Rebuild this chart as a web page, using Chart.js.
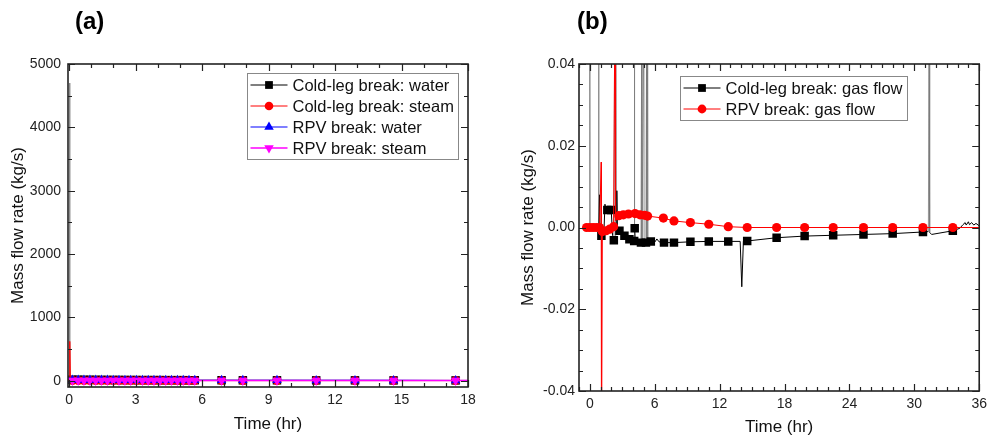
<!DOCTYPE html>
<html>
<head>
<meta charset="utf-8">
<script src="https://cdn.jsdelivr.net/npm/chart.js@4"></script>
<style>
  body { margin: 0; background: #fff; }
  #wrap { position: relative; width: 992px; height: 440px; overflow: hidden; }
  canvas { position: absolute; top: 0; }
  .tag { position: absolute; top: 7px; font: bold 24px "Liberation Sans", Arial, sans-serif; color: #000; }
</style>
</head>
<body>
<div id="wrap">
  <canvas id="chartA" width="496" height="440" style="left:0"></canvas>
  <canvas id="chartB" width="496" height="440" style="left:496px"></canvas>
  <div class="tag" style="left:75px">(a)</div>
  <div class="tag" style="left:577px">(b)</div>
</div>
<script>
// ---- (a) break flow rate, kg/s over time (hr)
const markTimesA = [0.15, 0.41, 0.67, 0.94, 1.2, 1.46, 1.73, 1.99, 2.25, 2.52, 2.78, 3.04, 3.31, 3.57, 3.83,
  4.1, 4.36, 4.62, 4.89, 5.15, 5.41, 5.67, 6.88, 7.84, 9.38, 11.15, 12.9, 14.64, 17.44];
const timeA = [0, 0.02, 0.04, 0.06, ...markTimesA, 18];
const coldWaterA = [0, 4700, 24, 18,
  15, 14, 13, 13, 12, 12, 11, 11, 11, 10, 10, 10, 9, 9, 9, 9, 8, 8, 8, 8, 7, 7, 7, 6, 6, 5, 5, 4, 4, 4];
const coldSteamA = [0, 0, 620, 6,
  3, 3, 3, 2, 2, 2, 2, 2, 2, 2, 2, 2, 2, 2, 2, 2, 1, 1, 1, 1, 1, 1, 1, 1, 1, 1, 1, 1, 1, 1];
const rpvWaterA = [0, 0, 35, 20,
  12, 11, 10, 10, 9, 9, 9, 8, 8, 8, 8, 7, 7, 7, 7, 7, 6, 6, 6, 6, 6, 6, 5, 5, 5, 4, 4, 4, 3, 3];
const rpvSteamA = [0, 0, 14, 6,
  3, 3, 3, 3, 2, 2, 2, 2, 2, 2, 2, 2, 2, 2, 2, 2, 2, 2, 1, 1, 1, 1, 1, 1, 1, 1, 1, 1, 1, 1];
const xTicksA = [0, 3, 6, 9, 12, 15, 18];
const yTicksA = [0, 1000, 2000, 3000, 4000, 5000];

// ---- (b) gas flow rate, kg/s over time (hr)
const timeColdB = [-0.3, -0.02, 0, 0.02, 0.8, 0.82, 0.84, 0.9, 0.95, 1.07, 1.3, 1.4, 1.5, 1.62, 1.98, 2.1, 2.22,
  2.3, 2.35, 2.4, 2.45, 2.5, 2.55, 2.74, 3.2, 3.66, 4.1, 4.12, 4.15, 4.2, 4.73, 4.8, 4.82, 5.0, 5.02, 5.19,
  5.25, 5.28, 5.35, 5.38, 5.64, 6.0, 6.2, 6.4, 6.86, 7.78, 9.3, 11.0, 12.8, 13.9, 14.05, 14.2, 14.55, 17.27,
  19.86, 22.5, 25.3, 28.0, 30.8, 31.3, 31.36, 31.42, 31.6, 33.56, 34.2, 34.5, 34.7, 34.8, 35.0, 35.1, 35.3,
  35.5, 35.7, 36];
const flowColdB = [0, 0, 0.05, 0, 0, 0.05, 0, 0.008, -0.001, -0.002, -0.0015, 0.0057, 0.004, 0.0043, 0.0043, -0.002, -0.0031,
  0.05, -0.002, 0.05, -0.001, 0.009, -0.0002, -0.0008, -0.002, -0.0029, -0.0033, 0.05, -0.0002, -0.0034, -0.0037, 0.05, -0.0037, 0.05, -0.0037, -0.0037,
  0.05, -0.0036, 0.05, -0.0035, -0.0034, -0.0036, -0.0028, -0.0035, -0.0037, -0.0037, -0.0035, -0.0034, -0.0034, -0.0034, -0.0145, -0.0033, -0.0033, -0.0025,
  -0.0021, -0.0019, -0.0017, -0.0015, -0.0011, -0.001, 0.05, -0.0012, -0.0017, -0.0008, -0.0002, 0.0007, 0.0012, 0.0006, 0.0014, 0.0007, 0.0012,
  0.0006, 0.001, 0.0004];
const markColdB = [1.07, 1.62, 1.98, 2.22, 2.74, 3.2, 3.66, 4.1, 4.15, 4.73, 5.19, 5.64, 6.86, 7.78, 9.3, 11.0,
  12.8, 14.55, 17.27, 19.86, 22.5, 25.3, 28.0, 30.8, 33.56];
const timeRpvB = [-0.3, 0, 0.3, 0.6, 0.9, 1.05, 1.08, 1.16, 1.5, 1.83, 2.2, 2.33, 2.38, 2.68, 3.1, 3.57, 4.18, 4.64,
  5.06, 5.34, 6.8, 7.78, 9.3, 11.0, 12.8, 14.55, 17.27, 19.86, 22.5, 25.3, 28.0, 30.8, 33.56, 36];
const flowRpvB = [0, 0, 0, 0, 0, 0.016, -0.06, -0.001, -0.0008, -0.0004, 0.0002, 0.06, 0.0017, 0.0029, 0.0031, 0.0033, 0.0034, 0.0031,
  0.003, 0.0028, 0.0023, 0.0016, 0.0012, 0.0008, 0.0002, 0, 0, 0, 0, 0, 0, 0, 0, 0];
const markRpvB = [-0.3, 0, 0.3, 0.6, 0.9, 1.16, 1.5, 1.83, 2.2, 2.68, 3.1, 3.57, 4.18, 4.64, 5.06, 5.34, 6.8, 7.78,
  9.3, 11.0, 12.8, 14.55, 17.27, 19.86, 22.5, 25.3, 28.0, 30.8, 33.56];
const xTicksB = [0, 6, 12, 18, 24, 30, 36];
const yTicksB = [-0.04, -0.02, 0, 0.02, 0.04];

const FONT = '"Liberation Sans", Arial, sans-serif';
Chart.defaults.font.family = FONT;
Chart.defaults.color = '#222';

const pts = (xs, ys) => xs.map((x, i) => ({x: x, y: ys[i]}));
const markAt = (times, r) => c => (c.raw && times.includes(c.raw.x)) ? r : 0;
// thin grey look for the near-vertical spikes
const spikeGrey = th => ({
  borderColor: c => Math.abs(c.p1.parsed.y - c.p0.parsed.y) > th ? '#777' : undefined,
  borderWidth: c => Math.abs(c.p1.parsed.y - c.p0.parsed.y) > th ? 0.8 : undefined
});

function drawMarker(ctx, style, r, rot, x, y) {
  ctx.beginPath();
  if (style === 'rect') {
    const s = r * Math.SQRT1_2;
    ctx.rect(x - s, y - s, 2 * s, 2 * s);
  } else if (style === 'circle') {
    ctx.arc(x, y, r, 0, Math.PI * 2);
  } else {
    let rad = (rot || 0) * Math.PI / 180;
    for (let k = 0; k < 3; k++) {
      ctx.lineTo(x + Math.sin(rad) * r, y - Math.cos(rad) * r);
      rad += Math.PI * 2 / 3;
    }
    ctx.closePath();
  }
  ctx.fill();
}

// inward major/minor ticks on all four sides + frame
const frameTicks = {
  id: 'frameTicks',
  afterDatasetsDraw(chart, args, opts) {
    const {ctx, chartArea: a, scales: {x, y}} = chart;
    ctx.save();
    ctx.strokeStyle = '#222';
    ctx.lineWidth = 1.2;
    ctx.beginPath();
    const xt = (v, len) => {
      const p = Math.round(x.getPixelForValue(v)) + 0.5;
      ctx.moveTo(p, a.bottom); ctx.lineTo(p, a.bottom - len);
      ctx.moveTo(p, a.top); ctx.lineTo(p, a.top + len);
    };
    const yt = (v, len) => {
      const p = Math.round(y.getPixelForValue(v)) + 0.5;
      ctx.moveTo(a.left, p); ctx.lineTo(a.left + len, p);
      ctx.moveTo(a.right, p); ctx.lineTo(a.right - len, p);
    };
    for (let k = Math.ceil(x.min / opts.xMinor); k * opts.xMinor <= x.max + 1e-9; k++) xt(k * opts.xMinor, 4);
    for (let k = Math.ceil(y.min / opts.yMinor); k * opts.yMinor <= y.max + 1e-9; k++) yt(k * opts.yMinor, 4);
    x.ticks.forEach(t => xt(t.value, 7));
    y.ticks.forEach(t => yt(t.value, 7));
    ctx.stroke();
    ctx.lineWidth = 1.6;
    ctx.strokeRect(a.left, a.top, a.right - a.left, a.bottom - a.top);
    ctx.restore();
  }
};

// Origin-style boxed legend: line with marker, then label
const boxLegend = {
  id: 'boxLegend',
  afterDraw(chart, args, opts) {
    const {ctx, chartArea: a} = chart;
    const sets = chart.data.datasets;
    ctx.save();
    ctx.font = '16.5px ' + FONT;
    const tw = Math.max(...sets.map(d => ctx.measureText(d.label).width));
    const x0 = Math.round(a.left + opts.x) + 0.5, y0 = Math.round(a.top + opts.y) + 0.5;
    const w = Math.round(3 + 37 + 5 + tw + 5), h = sets.length * 21 + 2;
    ctx.fillStyle = '#fff';
    ctx.fillRect(x0, y0, w, h);
    ctx.strokeStyle = '#888';
    ctx.lineWidth = 1;
    ctx.strokeRect(x0, y0, w, h);
    sets.forEach((d, i) => {
      const cy = y0 + 11.5 + i * 21;
      ctx.strokeStyle = d.borderColor;
      ctx.lineWidth = d.borderWidth;
      ctx.beginPath();
      ctx.moveTo(x0 + 3, cy); ctx.lineTo(x0 + 40, cy);
      ctx.stroke();
      ctx.fillStyle = d.backgroundColor;
      drawMarker(ctx, d.pointStyle, d.legendRadius, d.pointRotation, x0 + 21.5, cy);
      ctx.fillStyle = '#111';
      ctx.textBaseline = 'middle';
      ctx.fillText(d.label, x0 + 45, cy + 1);
    });
    ctx.restore();
  }
};

function axisX(min, max, ticks, height, titlePad) {
  return {
    type: 'linear', min: min, max: max,
    afterBuildTicks: s => { s.ticks = ticks.map(v => ({value: v})); },
    afterFit: s => { s.height = height; },
    grid: {display: false, drawTicks: false},
    border: {display: false},
    ticks: {font: {size: 14}, color: '#222', padding: 5, maxRotation: 0, autoSkip: false},
    title: {display: true, text: 'Time (hr)', font: {size: 17}, color: '#111', padding: {top: 0, bottom: titlePad}}
  };
}
function axisY(min, max, ticks, width, labelPad, fmt) {
  return {
    type: 'linear', min: min, max: max,
    afterBuildTicks: s => { s.ticks = ticks.map(v => ({value: v})); },
    afterFit: s => { s.width = width; },
    grid: {display: false, drawTicks: false},
    border: {display: false},
    ticks: {font: {size: 14}, color: '#222', padding: labelPad, autoSkip: false, callback: fmt},
    title: {display: true, text: 'Mass flow rate (kg/s)', font: {size: 17}, color: '#111', padding: {top: 8, bottom: 0}}
  };
}

const baseOpts = {
  responsive: false,
  animation: false,
  events: [],
  plugins: {legend: {display: false}, tooltip: {enabled: false}}
};

new Chart(document.getElementById('chartA'), {
  type: 'scatter',
  data: {
    datasets: [
      {label: 'Cold-leg break: water', data: pts(timeA, coldWaterA), showLine: true, borderColor: '#000', backgroundColor: '#000',
       borderWidth: 1, segment: spikeGrey(1000), pointStyle: 'rect', pointRadius: markAt(markTimesA, 6), legendRadius: 5.5, pointBorderWidth: 0, order: 3},
      {label: 'Cold-leg break: steam', data: pts(timeA, coldSteamA), showLine: true, borderColor: '#ff0000', backgroundColor: '#ff0000',
       borderWidth: 1, pointStyle: 'circle', pointRadius: markAt(markTimesA, 4.5), legendRadius: 4.3, pointBorderWidth: 0, order: 2},
      {label: 'RPV break: water', data: pts(timeA, rpvWaterA), showLine: true, borderColor: '#0000ff', backgroundColor: '#0000ff',
       borderWidth: 1.2, pointStyle: 'triangle', pointRadius: markAt(markTimesA, 5.5), legendRadius: 5.5, pointBorderWidth: 0, order: 1},
      {label: 'RPV break: steam', data: pts(timeA, rpvSteamA), showLine: true, borderColor: '#ff00ff', backgroundColor: '#ff00ff',
       borderWidth: 1.5, pointStyle: 'triangle', pointRotation: 180, pointRadius: markAt(markTimesA, 5.5), legendRadius: 5.5, pointBorderWidth: 0, order: 0}
    ]
  },
  options: Object.assign({}, baseOpts, {
    layout: {padding: {top: 64, right: 28, left: 0, bottom: 0}},
    scales: {
      x: axisX(-0.05, 18, xTicksA, 53, 5),
      y: axisY(-100, 5000, yTicksA, 68, 7, v => String(v))
    },
    plugins: Object.assign({}, baseOpts.plugins, {
      frameTicks: {xMinor: 1, yMinor: 500},
      boxLegend: {x: 179, y: 9}
    })
  }),
  plugins: [frameTicks, boxLegend]
});

new Chart(document.getElementById('chartB'), {
  type: 'scatter',
  data: {
    datasets: [
      {label: 'Cold-leg break: gas flow', data: pts(timeColdB, flowColdB), showLine: true, borderColor: '#000', backgroundColor: '#000',
       borderWidth: 1, segment: spikeGrey(0.02), pointStyle: 'rect', pointRadius: markAt(markColdB, 6), legendRadius: 5.5, pointBorderWidth: 0, order: 1},
      {label: 'RPV break: gas flow', data: pts(timeRpvB, flowRpvB), showLine: true, borderColor: '#ff0000', backgroundColor: '#ff0000',
       borderWidth: 1, pointStyle: 'circle', pointRadius: markAt(markRpvB, 4.6), legendRadius: 4.4, pointBorderWidth: 0, order: 0}
    ]
  },
  options: Object.assign({}, baseOpts, {
    layout: {padding: {top: 64, right: 9, left: 14, bottom: 0}},
    scales: {
      x: axisX(-1, 36, xTicksB, 49, 2),
      y: axisY(-0.04, 0.04, yTicksB, 69, 4, v => Number(v).toFixed(2))
    },
    plugins: Object.assign({}, baseOpts.plugins, {
      frameTicks: {xMinor: 1, yMinor: 0.005},
      boxLegend: {x: 101, y: 12}
    })
  }),
  plugins: [frameTicks, boxLegend]
});
</script>
</body>
</html>
